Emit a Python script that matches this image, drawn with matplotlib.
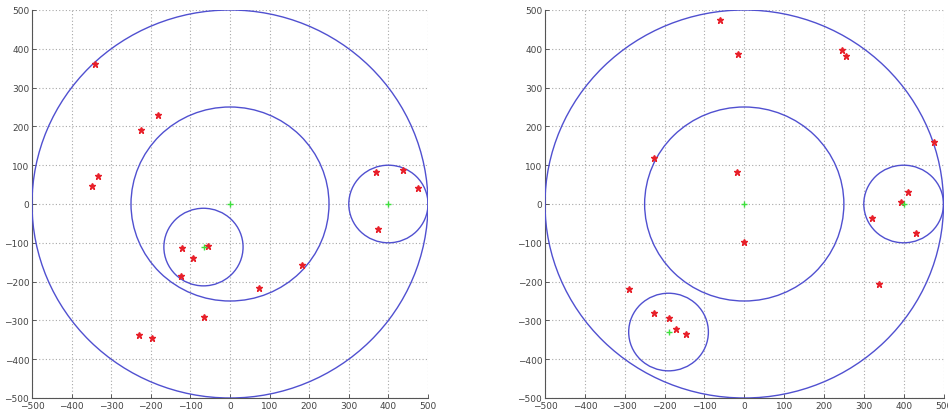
import matplotlib
matplotlib.use("Agg")
import matplotlib.pyplot as plt
from matplotlib.patches import Circle
import numpy as np

# ---- data: left panel ----
left_circles_cx = [0, 0, -67, 400]
left_circles_cy = [0, 0, -111, 0]
left_circles_r = [500, 250, 100, 100]
left_centers_x = [0, 400, -65]
left_centers_y = [0, 0, -110]
left_pts_x = [-341, -183, -225, -333, -349, 368, 437, 475, -122, -55, -93, -123,
              -66, -230, -198, 373, 182, 74]
left_pts_y = [360, 229, 190, 73, 47, 83, 88, 40, -113, -108, -138, -185,
              -290, -337, -345, -64, -156, -217]

# ---- data: right panel ----
right_circles_cx = [0, 0, 400, -190]
right_circles_cy = [0, 0, 0, -330]
right_circles_r = [500, 250, 100, 100]
right_centers_x = [0, 400, -190]
right_centers_y = [0, 0, -329]
right_pts_x = [-61, -15, -227, -19, 246, 255, 475, 411, 393, 320, 432, 0, 337,
               -289, -226, -189, -172, -147]
right_pts_y = [474, 387, 119, 82, 398, 381, 159, 32, 5, -37, -75, -99, -206,
               -219, -282, -294, -322, -336]

ticks = list(range(-500, 501, 100))

W, H = 948, 414
fig = plt.figure(figsize=(W / 100, H / 100), dpi=100)
fig.patch.set_facecolor("white")

ax1 = fig.add_axes([32 / W, 1 - 399 / H, 396 / W, 388 / H])
ax2 = fig.add_axes([545 / W, 1 - 399 / H, 398.5 / W, 388 / H])

blue = "#5050d0"
red = "#e8202a"
green = "#3ee03e"


def draw(ax, ccx, ccy, cr, gx, gy, px, py):
    for cx, cy, r in zip(ccx, ccy, cr):
        ax.add_patch(Circle((cx, cy), r, fill=False, edgecolor=blue, lw=1.0, zorder=3))
    ax.plot(px, py, linestyle="none", marker="*", color=red, markersize=4.5,
            markeredgewidth=1.0, zorder=4)
    ax.plot(gx, gy, linestyle="none", marker="+", color=green, markersize=5,
            markeredgewidth=1.0, zorder=4)
    ax.set_xlim(-500, 500)
    ax.set_ylim(-500, 500)
    ax.set_xticks(ticks)
    ax.set_yticks(ticks)
    ax.grid(True, linestyle=(0, (1, 2)), color="#a8a8a8", lw=0.8)
    ax.set_axisbelow(True)
    for s in ["top", "right"]:
        ax.spines[s].set_visible(False)
    for s in ["left", "bottom"]:
        ax.spines[s].set_color("#555555")
        ax.spines[s].set_linewidth(0.8)
    ax.tick_params(direction="in", length=3, width=0.6, colors="#444444",
                   labelsize=6.5, pad=2)


draw(ax1, left_circles_cx, left_circles_cy, left_circles_r,
     left_centers_x, left_centers_y, left_pts_x, left_pts_y)
draw(ax2, right_circles_cx, right_circles_cy, right_circles_r,
     right_centers_x, right_centers_y, right_pts_x, right_pts_y)

fig.savefig("out.png", dpi=100, facecolor="white")
